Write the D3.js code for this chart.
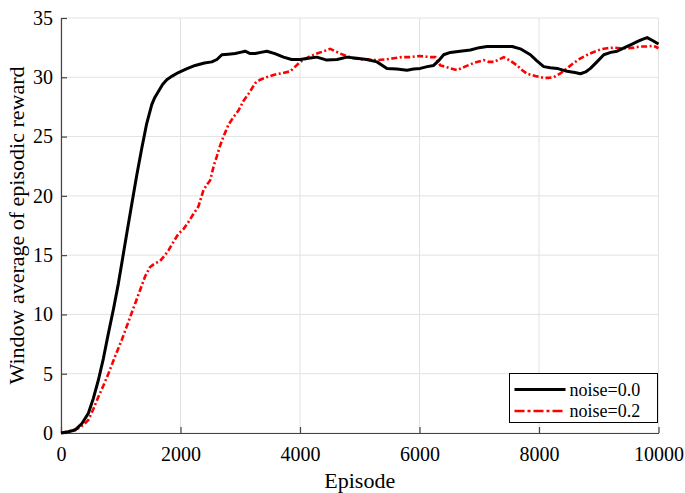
<!DOCTYPE html>
<html>
<head>
<meta charset="utf-8">
<script src="https://cdn.jsdelivr.net/npm/d3@7"></script>
<style>
  body { margin: 0; background: #fff; }
  svg text { font-family: "Liberation Serif", "Times New Roman", serif; fill: #000; }
</style>
</head>
<body>
<div id="chart"></div>
<script>

// data
var xTicks = [0, 2000, 4000, 6000, 8000, 10000];
var yTicks = [0, 5, 10, 15, 20, 25, 30, 35];
var seriesNames = ["noise=0.0", "noise=0.2"];

var episodesA = [0,120,234,350,458,540,626,710,793,880,960,1030,1100,1184,1270,1351,1430,1519,1570,1630,1700,1770,1860,1965,2100,2245,2400,2524,2610,2692,2800,2915,3000,3082,3166,3250,3345,3445,3580,3724,3860,4003,4140,4283,4450,4620,4785,4950,5120,5288,5455,5620,5791,5900,6013,6130,6237,6320,6404,6516,6680,6851,7000,7130,7270,7409,7550,7688,7856,7960,8079,8190,8303,8470,8600,8694,8780,8861,8970,9084,9200,9308,9476,9560,9643,9730,9810,9900,10000];
var rewardA = [0,0.1,0.25,0.8,1.66,2.9,4.47,6.3,8.4,10.5,12.6,14.7,16.8,19.3,21.8,24.0,26.0,27.7,28.3,28.8,29.4,29.8,30.1,30.4,30.7,31.0,31.2,31.3,31.5,31.9,31.95,32.0,32.1,32.2,32.0,32.0,32.1,32.2,32.0,31.7,31.5,31.5,31.6,31.7,31.45,31.5,31.7,31.6,31.5,31.3,30.75,30.7,30.6,30.7,30.75,30.9,31.0,31.4,31.9,32.1,32.2,32.3,32.5,32.6,32.6,32.6,32.6,32.4,31.9,31.4,30.9,30.8,30.75,30.5,30.4,30.3,30.45,30.75,31.3,31.9,32.1,32.2,32.6,32.8,33.0,33.2,33.35,33.1,32.8];

var episodesB = [0,150,290,380,458,540,626,710,793,900,1017,1130,1240,1320,1407,1491,1570,1658,1740,1798,1880,1965,2050,2133,2220,2300,2385,2450,2496,2560,2607,2660,2719,2803,2880,2970,3054,3138,3250,3333,3440,3557,3700,3836,3920,4003,4140,4283,4400,4506,4590,4673,4780,4896,5050,5288,5420,5567,5700,5846,6000,6181,6265,6310,6348,6430,6516,6628,6760,6906,7074,7160,7242,7330,7409,7520,7633,7720,7800,7940,8079,8160,8247,8350,8470,8580,8694,8850,9029,9140,9252,9360,9476,9590,9699,9810,9922,10000];
var rewardB = [0,0.15,0.4,0.7,1.1,2.0,3.06,4.0,5.0,6.4,7.85,9.4,10.9,12.0,13.2,14.0,14.3,14.5,15.0,15.4,16.1,16.8,17.2,17.8,18.5,19.1,20.5,21.0,21.3,22.6,23.3,24.2,25.0,26.0,26.6,27.2,28.0,28.6,29.5,29.8,30.0,30.2,30.35,30.5,30.9,31.3,31.7,32.0,32.2,32.4,32.2,32.0,31.8,31.6,31.5,31.45,31.5,31.6,31.7,31.7,31.8,31.7,31.7,31.3,31.0,30.9,30.75,30.6,30.9,31.2,31.45,31.3,31.3,31.5,31.7,31.4,31.0,30.6,30.3,30.1,29.95,29.95,30.0,30.3,30.75,31.2,31.6,32.0,32.35,32.45,32.5,32.45,32.45,32.5,32.6,32.6,32.65,32.45];

var width = 685, height = 493;
var margin = {left: 61, right: 26.5, top: 18, bottom: 60};
var serif = "'Liberation Serif', 'Times New Roman', serif";

var svg = d3.select("#chart")
			.append("svg")
			.attr("width", width)
			.attr("height", height);

var x = d3.scaleLinear().domain([0, 10000]).range([margin.left, width - margin.right]);
var y = d3.scaleLinear().domain([0, 35]).range([height - margin.bottom, margin.top]);

// grid
svg.append("g")
	.selectAll("line")
	.data(xTicks)
	.join("line")
	.attr("x1", d => x(d)).attr("x2", d => x(d))
	.attr("y1", y(0)).attr("y2", y(35))
	.style("stroke", "#e2e2e2")
	.style("stroke-width", 1);

svg.append("g")
	.selectAll("line")
	.data(yTicks)
	.join("line")
	.attr("x1", x(0)).attr("x2", x(10000))
	.attr("y1", d => y(d)).attr("y2", d => y(d))
	.style("stroke", "#e2e2e2")
	.style("stroke-width", 1);

// axes, ticks pointing inward
var xAxis = svg.append("g")
	.attr("transform", "translate(0," + y(0) + ")")
	.call(d3.axisBottom(x).tickValues(xTicks).tickSizeInner(-6).tickSizeOuter(0).tickFormat(d3.format("d")));

var yAxis = svg.append("g")
	.attr("transform", "translate(" + x(0) + ",0)")
	.call(d3.axisLeft(y).tickValues(yTicks).tickSizeInner(-6).tickSizeOuter(0).tickPadding(8).tickFormat(d3.format("d")));

[xAxis, yAxis].forEach(function(a) {
	a.attr("font-family", serif).attr("font-size", 20);
	a.select(".domain").style("stroke", "#444").style("stroke-width", 1.2);
	a.selectAll(".tick line").style("stroke", "#444").style("stroke-width", 1.2);
	a.selectAll(".tick text").style("fill", "#000");
});
xAxis.selectAll(".tick text").attr("y", 28).attr("dy", 0);

// curves
var line = d3.line().x(d => x(d[0])).y(d => y(d[1]));

svg.append("path")
	.datum(episodesB.map((e, i) => [e, rewardB[i]]))
	.attr("d", line)
	.style("fill", "none")
	.style("stroke", "#ff0000")
	.style("stroke-width", 2.6)
	.style("stroke-dasharray", "6,2.5,2,2.5");

svg.append("path")
	.datum(episodesA.map((e, i) => [e, rewardA[i]]))
	.attr("d", line)
	.style("fill", "none")
	.style("stroke", "#000")
	.style("stroke-width", 3)
	.style("stroke-linejoin", "round");

// labels
svg.append("text")
	.attr("x", x(5000))
	.attr("y", 488)
	.attr("text-anchor", "middle")
	.style("font-size", "22px")
	.text("Episode");

svg.append("text")
	.attr("transform", "translate(24," + y(17.5) + ") rotate(-90)")
	.attr("text-anchor", "middle")
	.style("font-size", "22px")
	.text("Window average of episodic reward");

// legend
var legend = svg.append("g").attr("transform", "translate(509.5,373.5)");

legend.append("rect")
	.attr("width", 148)
	.attr("height", 49)
	.style("fill", "#fff")
	.style("stroke", "#000")
	.style("stroke-width", 1);

var legendStyles = [
	{color: "#000", dash: null, w: 3},
	{color: "#ff0000", dash: "10,3,3,3", w: 2.6}
];

seriesNames.forEach(function(name, i) {
	var cy = 16 + i * 21.5;
	legend.append("line")
		.attr("x1", 5).attr("x2", 56)
		.attr("y1", cy).attr("y2", cy)
		.style("stroke", legendStyles[i].color)
		.style("stroke-width", legendStyles[i].w)
		.style("stroke-dasharray", legendStyles[i].dash);
	legend.append("text")
		.attr("x", 60)
		.attr("y", cy)
		.attr("dy", "0.35em")
		.style("font-size", "18px")
		.text(name);
});

</script>
</body>
</html>
